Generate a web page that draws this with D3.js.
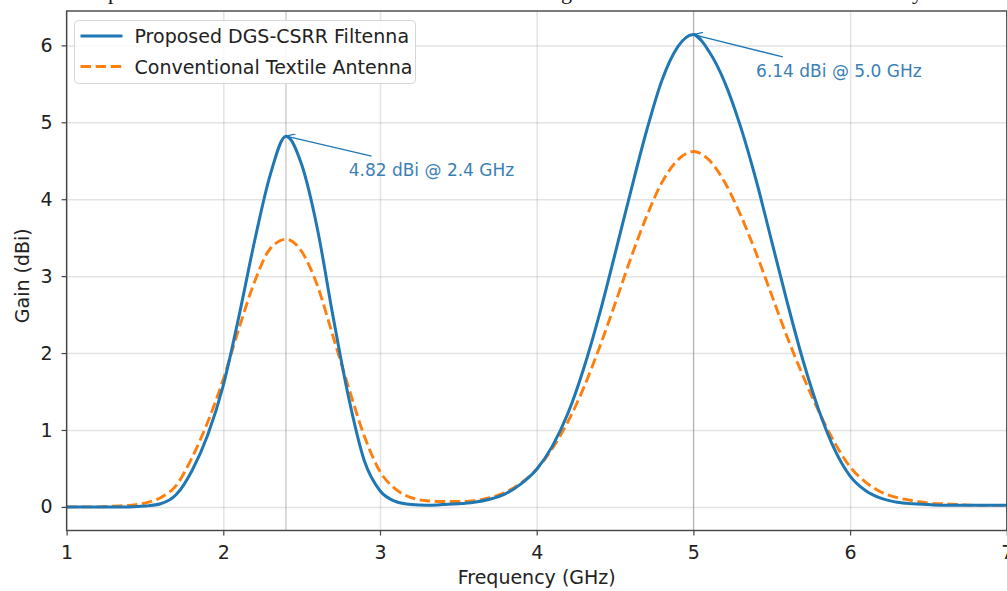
<!DOCTYPE html>
<html>
<head>
<meta charset="utf-8">
<script src="https://cdn.jsdelivr.net/npm/d3@7"></script>
<style>
    body { margin: 0; background: #fff; }
    svg { display: block; }
    text { font-family: "DejaVu Sans", sans-serif; }
</style>
</head>
<body>
<svg id="chart" width="1007" height="591"></svg>
<script>
// Frequency samples (GHz) and gain readings (dBi)
const freq = [1.0, 1.1, 1.2, 1.3, 1.4, 1.5, 1.6, 1.7, 1.8, 1.9,
    2.0, 2.1, 2.2, 2.3, 2.4, 2.5, 2.6, 2.7, 2.8, 2.9,
    3.0, 3.1, 3.2, 3.3, 3.4, 3.5, 3.6, 3.7, 3.8, 3.9,
    4.0, 4.1, 4.2, 4.3, 4.4, 4.5, 4.6, 4.7, 4.8, 4.9,
    5.0, 5.1, 5.2, 5.3, 5.4, 5.5, 5.6, 5.7, 5.8, 5.9,
    6.0, 6.1, 6.2, 6.3, 6.4, 6.5, 6.6, 6.7, 6.8, 6.9, 7.0];

const proposedGain = [0.00, 0.00, 0.00, 0.00, 0.00, 0.01, 0.04, 0.16, 0.47, 0.93,
    1.58, 2.48, 3.46, 4.32, 4.82, 4.45, 3.62, 2.48, 1.42, 0.60,
    0.21, 0.07, 0.03, 0.02, 0.03, 0.04, 0.06, 0.10, 0.17, 0.30,
    0.49, 0.79, 1.22, 1.80, 2.50, 3.29, 4.10, 4.88, 5.55, 5.98,
    6.14, 5.92, 5.52, 4.95, 4.25, 3.45, 2.65, 1.90, 1.26, 0.75,
    0.40, 0.21, 0.11, 0.06, 0.04, 0.03, 0.02, 0.02, 0.02, 0.02, 0.02];

const conventionalGain = [0.00, 0.00, 0.00, 0.01, 0.02, 0.05, 0.12, 0.28, 0.64, 1.10,
    1.66, 2.32, 2.93, 3.36, 3.48, 3.32, 2.88, 2.22, 1.55, 0.92,
    0.46, 0.23, 0.12, 0.08, 0.07, 0.07, 0.08, 0.12, 0.19, 0.31,
    0.49, 0.76, 1.11, 1.55, 2.07, 2.64, 3.23, 3.77, 4.22, 4.51,
    4.62, 4.51, 4.22, 3.80, 3.30, 2.75, 2.20, 1.70, 1.24, 0.84,
    0.52, 0.32, 0.19, 0.12, 0.08, 0.05, 0.04, 0.03, 0.02, 0.02, 0.02];

const seriesNames = ['Proposed DGS-CSRR Filtenna', 'Conventional Textile Antenna'];
const xTicks = [1, 2, 3, 4, 5, 6, 7];
const yTicks = [0, 1, 2, 3, 4, 5, 6];

// Peak annotations: peak point and label anchor (data units)
const peakFreq = [2.4, 5.0];
const peakGain = [4.82, 6.14];
const peakLabels = ['4.82 dBi @ 2.4 GHz', '6.14 dBi @ 5.0 GHz'];
const labelFreq = [2.8, 5.4];
const labelGain = [4.30, 5.59];

const colors = { blue: '#1f77b4', orange: '#ff7f0e' };

// Plot box
const plot = { left: 66.6, right: 1006.8, top: 11, bottom: 530.5 };

const svg = d3.select('#chart');

const x = d3.scaleLinear().domain([1, 7]).range([plot.left, plot.right]);
const y = d3.scaleLinear().domain([-0.307, 6.447]).range([plot.bottom, plot.top]);

// Grid
svg.append('g')
    .attr('transform', `translate(0,${plot.bottom})`)
    .call(d3.axisBottom(x).tickValues(xTicks).tickSize(-(plot.bottom - plot.top)).tickFormat(''))
    .call(g => g.select('.domain').remove())
    .call(g => g.selectAll('line').attr('stroke', '#b0b0b0').attr('stroke-opacity', 0.35).attr('stroke-width', 1.5));

svg.append('g')
    .attr('transform', `translate(${plot.left},0)`)
    .call(d3.axisLeft(y).tickValues(yTicks).tickSize(-(plot.right - plot.left)).tickFormat(''))
    .call(g => g.select('.domain').remove())
    .call(g => g.selectAll('line').attr('stroke', '#b0b0b0').attr('stroke-opacity', 0.35).attr('stroke-width', 1.5));

// Reference lines at the peak frequencies
svg.selectAll('.vref')
    .data(peakFreq)
    .enter()
    .append('line')
    .attr('x1', d => x(d)).attr('x2', d => x(d))
    .attr('y1', plot.top).attr('y2', plot.bottom)
    .attr('stroke', '#999').attr('stroke-opacity', 0.7).attr('stroke-width', 1);

// Curves
const line = d3.line()
    .x((d, i) => x(freq[i]))
    .y(d => y(d))
    .curve(d3.curveMonotoneX);

svg.append('path')
    .datum(conventionalGain)
    .attr('fill', 'none')
    .attr('stroke', colors.orange)
    .attr('stroke-width', 2.9)
    .attr('stroke-dasharray', '10.5,4.6')
    .attr('d', line);

svg.append('path')
    .datum(proposedGain)
    .attr('fill', 'none')
    .attr('stroke', colors.blue)
    .attr('stroke-width', 3)
    .attr('d', line);

// Axes
const xAxis = svg.append('g')
    .attr('transform', `translate(0,${plot.bottom})`)
    .call(d3.axisBottom(x).tickValues(xTicks).tickSize(5).tickPadding(10).tickFormat(d3.format('d')));

const yAxis = svg.append('g')
    .attr('transform', `translate(${plot.left},0)`)
    .call(d3.axisLeft(y).tickValues(yTicks).tickSize(5).tickPadding(9).tickFormat(d3.format('d')));

[xAxis, yAxis].forEach(g => {
    g.select('.domain').remove();
    g.selectAll('line').attr('stroke', '#444').attr('stroke-width', 1.2);
    g.selectAll('text').attr('fill', '#222').style('font-size', '19px').style('font-family', 'DejaVu Sans');
});

// Frame
svg.append('rect')
    .attr('x', plot.left).attr('y', plot.top)
    .attr('width', plot.right - plot.left).attr('height', plot.bottom - plot.top)
    .attr('fill', 'none').attr('stroke', '#444').attr('stroke-width', 1.4);

// Axis labels
svg.append('text')
    .attr('x', (plot.left + plot.right) / 2 + 0)
    .attr('y', 584)
    .attr('text-anchor', 'middle')
    .style('font-size', '19px')
    .attr('fill', '#222')
    .text('Frequency (GHz)');

svg.append('text')
    .attr('transform', `translate(29,${(plot.top + plot.bottom) / 2 + 5}) rotate(-90)`)
    .attr('text-anchor', 'middle')
    .style('font-size', '19px')
    .attr('fill', '#222')
    .text('Gain (dBi)');

// Peak annotations
const defs = svg.append('defs');
defs.append('marker')
    .attr('id', 'head')
    .attr('viewBox', '0 0 10 10')
    .attr('refX', 10).attr('refY', 5)
    .attr('markerWidth', 9).attr('markerHeight', 9)
    .attr('markerUnits', 'userSpaceOnUse')
    .attr('orient', 'auto')
    .append('path')
    .attr('d', 'M0,0 L10,5 L0,10')
    .attr('fill', 'none')
    .attr('stroke', colors.blue)
    .attr('stroke-width', 1.4);

peakLabels.forEach((label, i) => {
    const t = svg.append('text')
        .attr('x', x(labelFreq[i]))
        .attr('y', y(labelGain[i]))
        .style('font-size', '17px')
        .attr('fill', '#3a80b5')
        .text(label);
    const b = t.node().getBBox();
    const cx = b.x + b.width / 2, cy = b.y + b.height / 2;
    const px = x(peakFreq[i]), py = y(peakGain[i]);
    // leave the text box (with some padding) along the line to the peak
    const halfW = b.width / 2 + 4, halfH = b.height / 2 + 4;
    const dx = px - cx, dy = py - cy;
    const s = Math.min(halfW / Math.abs(dx), halfH / Math.abs(dy));
    svg.append('line')
        .attr('x1', cx + dx * s).attr('y1', cy + dy * s)
        .attr('x2', px).attr('y2', py)
        .attr('stroke', colors.blue)
        .attr('stroke-width', 1.3)
        .attr('marker-end', 'url(#head)');
});

// Legend
const legend = svg.append('g').attr('transform', 'translate(74.5,20.5)');
legend.append('rect')
    .attr('width', 341).attr('height', 63)
    .attr('rx', 4)
    .attr('fill', '#fff').attr('fill-opacity', 0.85)
    .attr('stroke', '#d6d6d6').attr('stroke-width', 1);

seriesNames.forEach((name, i) => {
    const item = legend.append('g').attr('transform', `translate(0,${15.5 + i * 30.5})`);
    item.append('line')
        .attr('x1', 6).attr('x2', 48)
        .attr('stroke', i === 0 ? colors.blue : colors.orange)
        .attr('stroke-width', i === 0 ? 3 : 2.9)
        .attr('stroke-dasharray', i === 0 ? null : '10.5,4.6');
    item.append('text')
        .attr('x', 60).attr('y', 7)
        .style('font-size', '19px')
        .attr('fill', '#222')
        .text(name);
});

// Cropped caption line above the figure (only descenders visible)
svg.append('g')
    .selectAll('text')
    .data([['p', 108], ['g', 561], ['y', 912]])
    .enter()
    .append('text')
    .attr('x', d => d[1]).attr('y', -1)
    .style('font-family', 'Liberation Serif')
    .style('font-size', '22px')
    .attr('fill', '#111')
    .text(d => d[0]);
</script>
</body>
</html>
